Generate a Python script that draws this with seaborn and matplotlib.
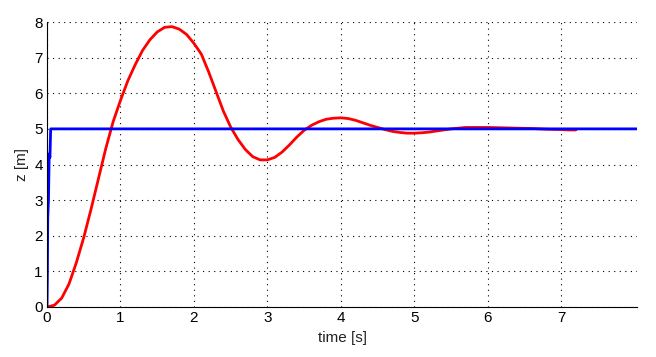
import matplotlib
matplotlib.use("Agg")
import matplotlib.pyplot as plt
import seaborn as sns
import pandas as pd

# Response z(t) (red)
t_resp = [0.0, 0.1, 0.2, 0.3, 0.4, 0.5, 0.6, 0.7, 0.8, 0.9, 1.0, 1.1, 1.2, 1.3, 1.4,
          1.5, 1.6, 1.7, 1.8, 1.9, 2.0, 2.1, 2.2, 2.3, 2.4, 2.5, 2.6, 2.7, 2.8, 2.9,
          3.0, 3.1, 3.2, 3.3, 3.4, 3.5, 3.6, 3.7, 3.8, 3.9, 4.0, 4.1, 4.2, 4.3, 4.4,
          4.5, 4.6, 4.7, 4.8, 4.9, 5.0, 5.1, 5.2, 5.3, 5.4, 5.5, 5.6, 5.7, 5.8, 6.0,
          6.2, 6.4, 6.6, 6.8, 7.0, 7.1, 7.2]
z_resp = [0.0, 0.05, 0.25, 0.65, 1.25, 1.95, 2.75, 3.6, 4.45, 5.2, 5.8, 6.35, 6.8, 7.2, 7.5,
          7.72, 7.85, 7.87, 7.8, 7.65, 7.4, 7.1, 6.6, 6.05, 5.5, 5.05, 4.7, 4.42, 4.22, 4.13,
          4.13, 4.2, 4.35, 4.55, 4.77, 4.96, 5.1, 5.2, 5.27, 5.3, 5.31, 5.29, 5.24, 5.17, 5.1,
          5.04, 4.98, 4.93, 4.9, 4.88, 4.88, 4.89, 4.91, 4.94, 4.97, 5.0, 5.02, 5.04, 5.04, 5.04,
          5.03, 5.02, 5.01, 4.99, 4.98, 4.97, 4.97]

# Reference z_ref(t) (blue)
t_ref = [0.0, 0.005, 0.01, 0.02, 0.03, 0.04, 0.05, 0.06, 8.03]
z_ref = [0.0, 0.9, 2.5, 3.0, 4.3, 4.2, 5.0, 5.0, 5.0]

x_ticks = [0, 1, 2, 3, 4, 5, 6, 7]
y_ticks = [0, 1, 2, 3, 4, 5, 6, 7, 8]

sns.set_style("white")
plt.rcParams['font.family'] = ['Liberation Sans Narrow', 'Liberation Sans', 'DejaVu Sans']

fig = plt.figure(figsize=(6.56, 3.57), dpi=100)
ax = fig.add_axes([47/656, 50/357, (637-47)/656, (307-22)/357])

df_resp = pd.DataFrame({"t": t_resp, "z": z_resp})
df_ref = pd.DataFrame({"t": t_ref, "z": z_ref})
sns.lineplot(data=df_resp, x="t", y="z", ax=ax, color="#ff0000", linewidth=2.0,
             sort=False, estimator=None)
sns.lineplot(data=df_ref, x="t", y="z", ax=ax, color="#0000ff", linewidth=2.0,
             sort=False, estimator=None)

ax.set_xlim(0, 8.03)
ax.set_ylim(0, 8)
ax.set_xticks(x_ticks)
ax.set_yticks(y_ticks)
ax.set_xticklabels([str(v) for v in x_ticks], fontsize=11)
ax.set_yticklabels([str(v) for v in y_ticks], fontsize=11)
ax.tick_params(direction='in', length=4, width=0.8, colors='black', pad=3)
ax.grid(True, color='black', linestyle=(0, (1, 4)), linewidth=0.8)
ax.set_axisbelow(True)
for s in ['top', 'right']:
    ax.spines[s].set_visible(False)
for s in ['left', 'bottom']:
    ax.spines[s].set_color('black')
    ax.spines[s].set_linewidth(0.8)
ax.set_xlabel("time [s]", fontsize=11, color='#222222', labelpad=4)
ax.set_ylabel("z [m]", fontsize=11, color='#222222', labelpad=4)

fig.savefig("out.png", dpi=100)
